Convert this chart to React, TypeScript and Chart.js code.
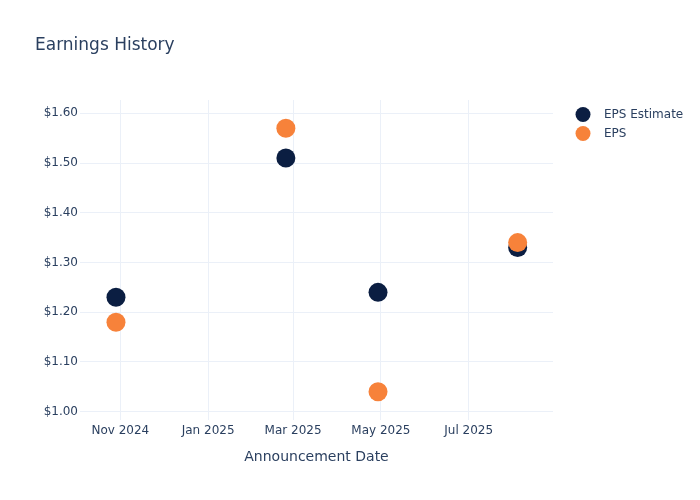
import React, { useEffect, useRef } from "react";
import { Chart, registerables } from "chart.js";

Chart.register(...registerables);

// ---- data ----
const titleText = "Earnings History";
const xAxisTitle = "Announcement Date";
const announceDates = ["2024-10-29", "2025-02-24", "2025-04-29", "2025-08-04"];
const epsEstimate = [1.23, 1.51, 1.24, 1.33];
const epsActual = [1.18, 1.57, 1.04, 1.34];
const seriesNames = ["EPS Estimate", "EPS"];
const seriesColors = ["#0b1e42", "#f7823a"];
const yTicks = [1.0, 1.1, 1.2, 1.3, 1.4, 1.5, 1.6];
const xTickDates = ["2024-11-01", "2025-01-01", "2025-03-01", "2025-05-01", "2025-07-01"];
const xTickLabels = ["Nov 2024", "Jan 2025", "Mar 2025", "May 2025", "Jul 2025"];
const xRange = ["2024-10-04T00:00:00Z", "2025-08-28T13:00:00Z"];
const yRange = [0.9833, 1.6268];

const FONT = '"DejaVu Sans", verdana, arial, sans-serif';
const TEXT_COLOR = "#2a3f5f";
const GRID_COLOR = "#ebf0f8";

const toMs = (d: string) => new Date(d.length === 10 ? d + "T00:00:00Z" : d).getTime();

const overlayPlugin = {
  id: "overlay",
  afterDraw(chart: any) {
    const ctx = chart.ctx as CanvasRenderingContext2D;
    const area = chart.chartArea;
    ctx.save();
    ctx.fillStyle = TEXT_COLOR;
    ctx.textBaseline = "middle";
    ctx.textAlign = "left";
    ctx.font = `17px ${FONT}`;
    ctx.fillText(titleText, 35, 45.5);

    ctx.textAlign = "center";
    ctx.font = `14px ${FONT}`;
    ctx.fillText(xAxisTitle, (area.left + area.right) / 2, 457);

    ctx.textAlign = "left";
    ctx.font = `12px ${FONT}`;
    seriesNames.forEach((name, i) => {
      const y = 114.5 + i * 19;
      ctx.beginPath();
      ctx.fillStyle = seriesColors[i];
      ctx.arc(583, y, 7.5, 0, Math.PI * 2);
      ctx.fill();
      ctx.fillStyle = TEXT_COLOR;
      ctx.fillText(name, 604, y + 0.5);
    });
    ctx.restore();
  },
};

export default function App() {
  const canvasRef = useRef<HTMLCanvasElement | null>(null);

  useEffect(() => {
    if (!canvasRef.current) return;
    const xs = announceDates.map(toMs);
    const chart = new Chart(canvasRef.current, {
      type: "scatter",
      data: {
        datasets: [
          {
            label: seriesNames[0],
            data: xs.map((x, i) => ({ x, y: epsEstimate[i] })),
            backgroundColor: seriesColors[0],
            borderColor: seriesColors[0],
            borderWidth: 0,
            pointRadius: 9.5,
            order: 1,
          },
          {
            label: seriesNames[1],
            data: xs.map((x, i) => ({ x, y: epsActual[i] })),
            backgroundColor: seriesColors[1],
            borderColor: seriesColors[1],
            borderWidth: 0,
            pointRadius: 9.5,
            order: 0,
          },
        ],
      },
      options: {
        animation: false,
        responsive: false,
        devicePixelRatio: 1,
        layout: { padding: { top: 100, right: 147, left: 0, bottom: 0 } },
        plugins: {
          legend: { display: false },
          title: { display: false },
          tooltip: { enabled: false },
        },
        scales: {
          x: {
            type: "linear",
            min: toMs(xRange[0]),
            max: toMs(xRange[1]),
            grid: { color: GRID_COLOR, drawTicks: false, lineWidth: 1 },
            border: { display: false },
            afterBuildTicks: (axis: any) => {
              axis.ticks = xTickDates.map((d) => ({ value: toMs(d) }));
            },
            afterFit: (axis: any) => {
              axis.height = 80;
            },
            ticks: {
              autoSkip: false,
              maxRotation: 0,
              padding: 3.5,
              color: TEXT_COLOR,
              font: { family: FONT, size: 12 },
              callback: (value: any) => {
                const idx = xTickDates.findIndex((d) => toMs(d) === value);
                return idx >= 0 ? xTickLabels[idx] : "";
              },
            },
          },
          y: {
            type: "linear",
            min: yRange[0],
            max: yRange[1],
            grid: { color: GRID_COLOR, drawTicks: false, lineWidth: 1 },
            border: { display: false },
            afterBuildTicks: (axis: any) => {
              axis.ticks = yTicks.map((v) => ({ value: v }));
            },
            afterFit: (axis: any) => {
              axis.width = 80;
            },
            ticks: {
              padding: 2,
              color: TEXT_COLOR,
              font: { family: FONT, size: 12 },
              callback: (value: any) => "$" + Number(value).toFixed(2),
            },
          },
        },
      },
      plugins: [overlayPlugin],
    } as any);
    return () => chart.destroy();
  }, []);

  return (
    <div style={{ position: "fixed", left: 0, top: 0, width: 700, height: 500, background: "#fff" }}>
      <canvas ref={canvasRef} width={700} height={500} style={{ width: 700, height: 500 }} />
    </div>
  );
}
